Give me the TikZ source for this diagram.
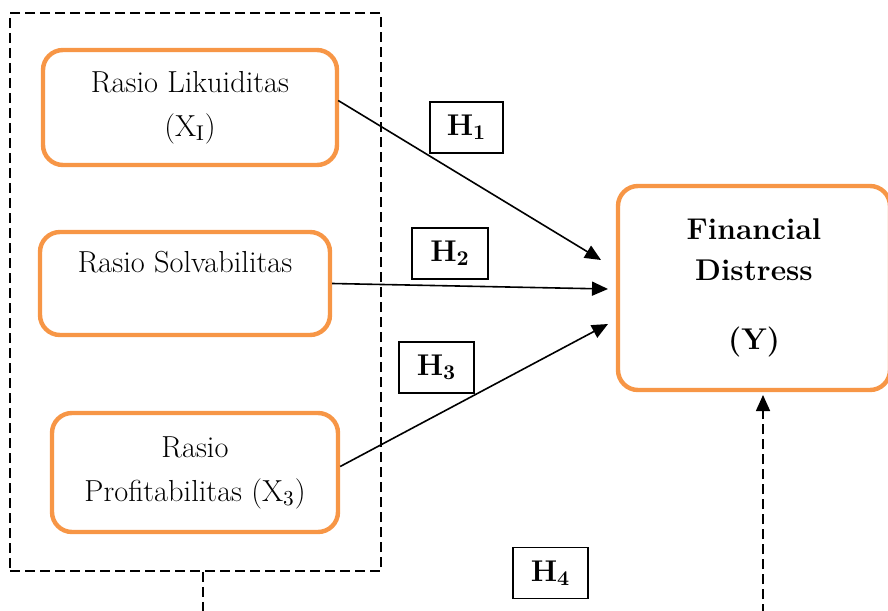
\documentclass[tikz,border=0pt]{standalone}
\usetikzlibrary{arrows.meta}
\definecolor{boxorange}{RGB}{247,150,70}

\tikzstyle{varblock} = [rectangle, rounded corners=10pt, draw=boxorange, line width=2.2pt, fill=white, align=center, text centered, font=\fontsize{15.2}{22}\selectfont]
\tikzstyle{hypblock} = [rectangle, draw=black, line width=0.6pt, minimum height=25.5pt, font=\fontsize{15}{17}\selectfont\bfseries]
\tikzstyle{dashbox} = [rectangle, draw=black, line width=0.8pt, dash pattern=on 5pt off 2.5pt]
\tikzstyle{hyparrow} = [-{Triangle[length=8pt,width=7pt]}, line width=0.8pt]

\begin{document}
\begin{tikzpicture}[x=0.5pt, y=-0.5pt]
\useasboundingbox (0,0) rectangle (888,610);
%Group of ratios
\node (grp) [dashbox, minimum width=185.5pt, minimum height=279pt] at (195.5,292) {};

%Custom blocks
\node (lik) [varblock, minimum width=147pt, minimum height=57.5pt] at (190,107.5) {Rasio Likuiditas\\(X\textsubscript{I})};
\node (sol) [varblock, minimum width=145pt, minimum height=51.5pt] at (185,283.5) {Rasio Solvabilitas\\\mbox{}};
\node (pro) [varblock, minimum width=143pt, minimum height=59.5pt] at (195,472.5) {Rasio\\Profitabilitas (X\textsubscript{3})};
\node (fin) [varblock, minimum width=136pt, minimum height=102pt, font=\fontsize{15}{20.5}\selectfont\bfseries] at (754,288) {Financial\\Distress\\[14pt](Y)};

%Hypothesis labels
\node (h1) [hypblock, minimum width=36.5pt] at (466.5,127.5) {H\textsubscript{1}};
\node (h2) [hypblock, minimum width=38pt] at (450,253.5) {H\textsubscript{2}};
\node (h3) [hypblock, minimum width=37.5pt] at (436.5,367.5) {H\textsubscript{3}};
\node (h4) [hypblock, minimum width=37.5pt] at (550.5,573) {H\textsubscript{4}};

%Arrow ends
\coordinate (t1) at (601,260);
\coordinate (t2) at (608,289);
\coordinate (t3) at (608,324);
\coordinate (t4) at (763,395);
\coordinate (b4) at (763,614);
\coordinate (b0) at (203,614);

%Arrows
\draw [hyparrow] (lik.east) ++(-1,-7) -- (t1);
\draw [hyparrow] (sol.east) -- (t2);
\draw [hyparrow] (pro.east) ++(0,-6) -- (t3);
\draw [hyparrow, dash pattern=on 5pt off 2.5pt] (b4) -- (t4);
\draw [dashbox] (grp.south -| b0) -- (b0);
\end{tikzpicture}
\end{document}
